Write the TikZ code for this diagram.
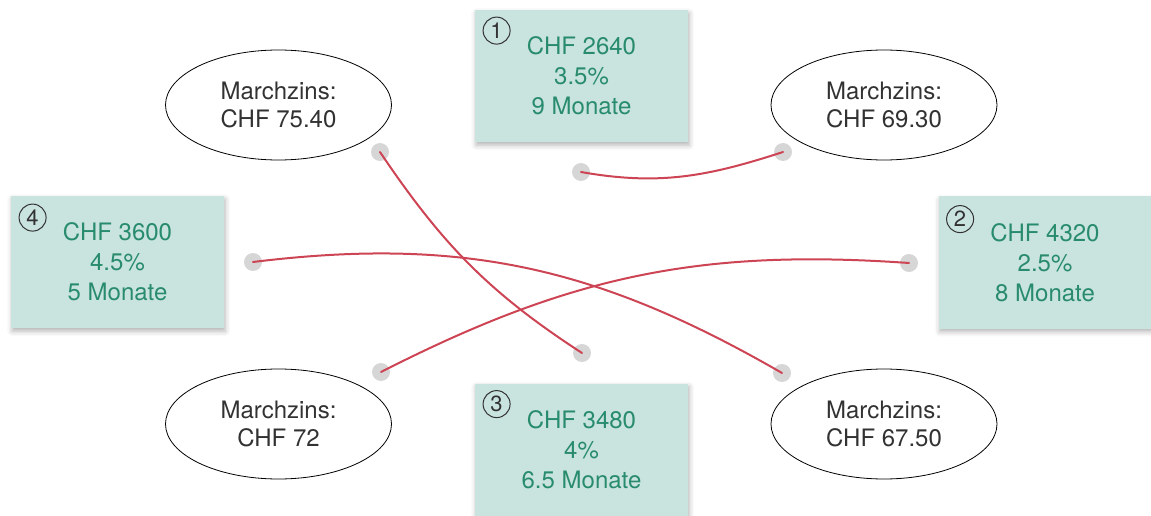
\documentclass[tikz,border=0pt]{standalone}
\usepackage{fontspec}
\setmainfont{TeX Gyre Heros}
\usetikzlibrary{shapes.geometric}
\usetikzlibrary{shadows.blur}
\definecolor{kontofill}{RGB}{201,227,223}
\definecolor{kontotext}{RGB}{40,140,108}
\definecolor{zinstext}{RGB}{50,50,50}
\definecolor{linie}{RGB}{205,68,84}
\definecolor{punktgrau}{RGB}{214,214,214}

\begin{document}
\begin{tikzpicture}[x=0.5pt,y=0.5pt,
		konto/.style={rectangle,fill=kontofill,minimum width=106.5pt,minimum height=66pt,inner sep=0pt,
			align=center,text=kontotext,font=\fontsize{12}{15}\selectfont,
			blur shadow={shadow xshift=0.6pt,shadow yshift=-1.6pt,shadow blur radius=2.5pt,shadow opacity=30}},
		zins/.style={ellipse,draw=black,line width=0.4pt,minimum width=113pt,minimum height=55pt,inner sep=0pt,
			align=center,text=zinstext,font=\fontsize{12}{14}\selectfont},
		nr/.style={circle,draw=zinstext,line width=0.5pt,minimum size=13.5pt,inner sep=0pt,
			text=zinstext,font=\fontsize{11}{11}\selectfont},
		punkt/.style={circle,fill=punktgrau,minimum size=9pt,inner sep=0pt},
		verbindung/.style={draw=linie,line width=1pt,line cap=round}]
		\useasboundingbox (0,0) rectangle (1151,515);
		\clip (0,0) rectangle (1151,515);
		
		% Konten
		\node[konto]  (k1) at (581.5,439)   {CHF 2640\\3.5\%\\9 Monate};
		\node[konto]  (k2) at (1045,252.5)  {CHF 4320\\2.5\%\\8 Monate};
		\node[konto]  (k3) at (581.5,65.5)  {CHF 3480\\4\%\\6.5 Monate};
		\node[konto]  (k4) at (117.5,253)   {CHF 3600\\4.5\%\\5 Monate};
		
		\node[nr] (n1) at ([xshift=11pt,yshift=-10.5pt]k1.north west) {1};
		\node[nr] (n2) at ([xshift=11pt,yshift=-11.5pt]k2.north west) {2};
		\node[nr] (n3) at ([xshift=11pt,yshift=-10.5pt]k3.north west) {3};
		\node[nr] (n4) at ([xshift=11pt,yshift=-11pt]k4.north west) {4};
		
		% Marchzinsen
		\node[zins]   (z1) at (278.5,410)   {Marchzins:\\CHF 75.40};
		\node[zins]   (z2) at (884,410)     {Marchzins:\\CHF 69.30};
		\node[zins]   (z3) at (278.5,91)    {Marchzins:\\CHF 72};
		\node[zins]   (z4) at (884,91)      {Marchzins:\\CHF 67.50};
		
		% Punkte
		\node[punkt]  (pa) at (380,363) {};
		\node[punkt]  (pb) at (581,343) {};
		\node[punkt]  (pc) at (783,363) {};
		\node[punkt]  (pd) at (253,253) {};
		\node[punkt]  (pe) at (909,252) {};
		\node[punkt]  (pf) at (381,143) {};
		\node[punkt]  (pg) at (582,162) {};
		\node[punkt]  (ph) at (782,142) {};
		
		\path[verbindung]
		(pb.center) edge[out=-10,in=-162] (pc.center)
		(pa.center) edge[out=-56,in=147] (pg.center)
		(pd.center) edge[out=7,in=150] (ph.center)
		(pe.center) edge[out=176,in=27] (pf.center);
		\end{tikzpicture}
\end{document}
